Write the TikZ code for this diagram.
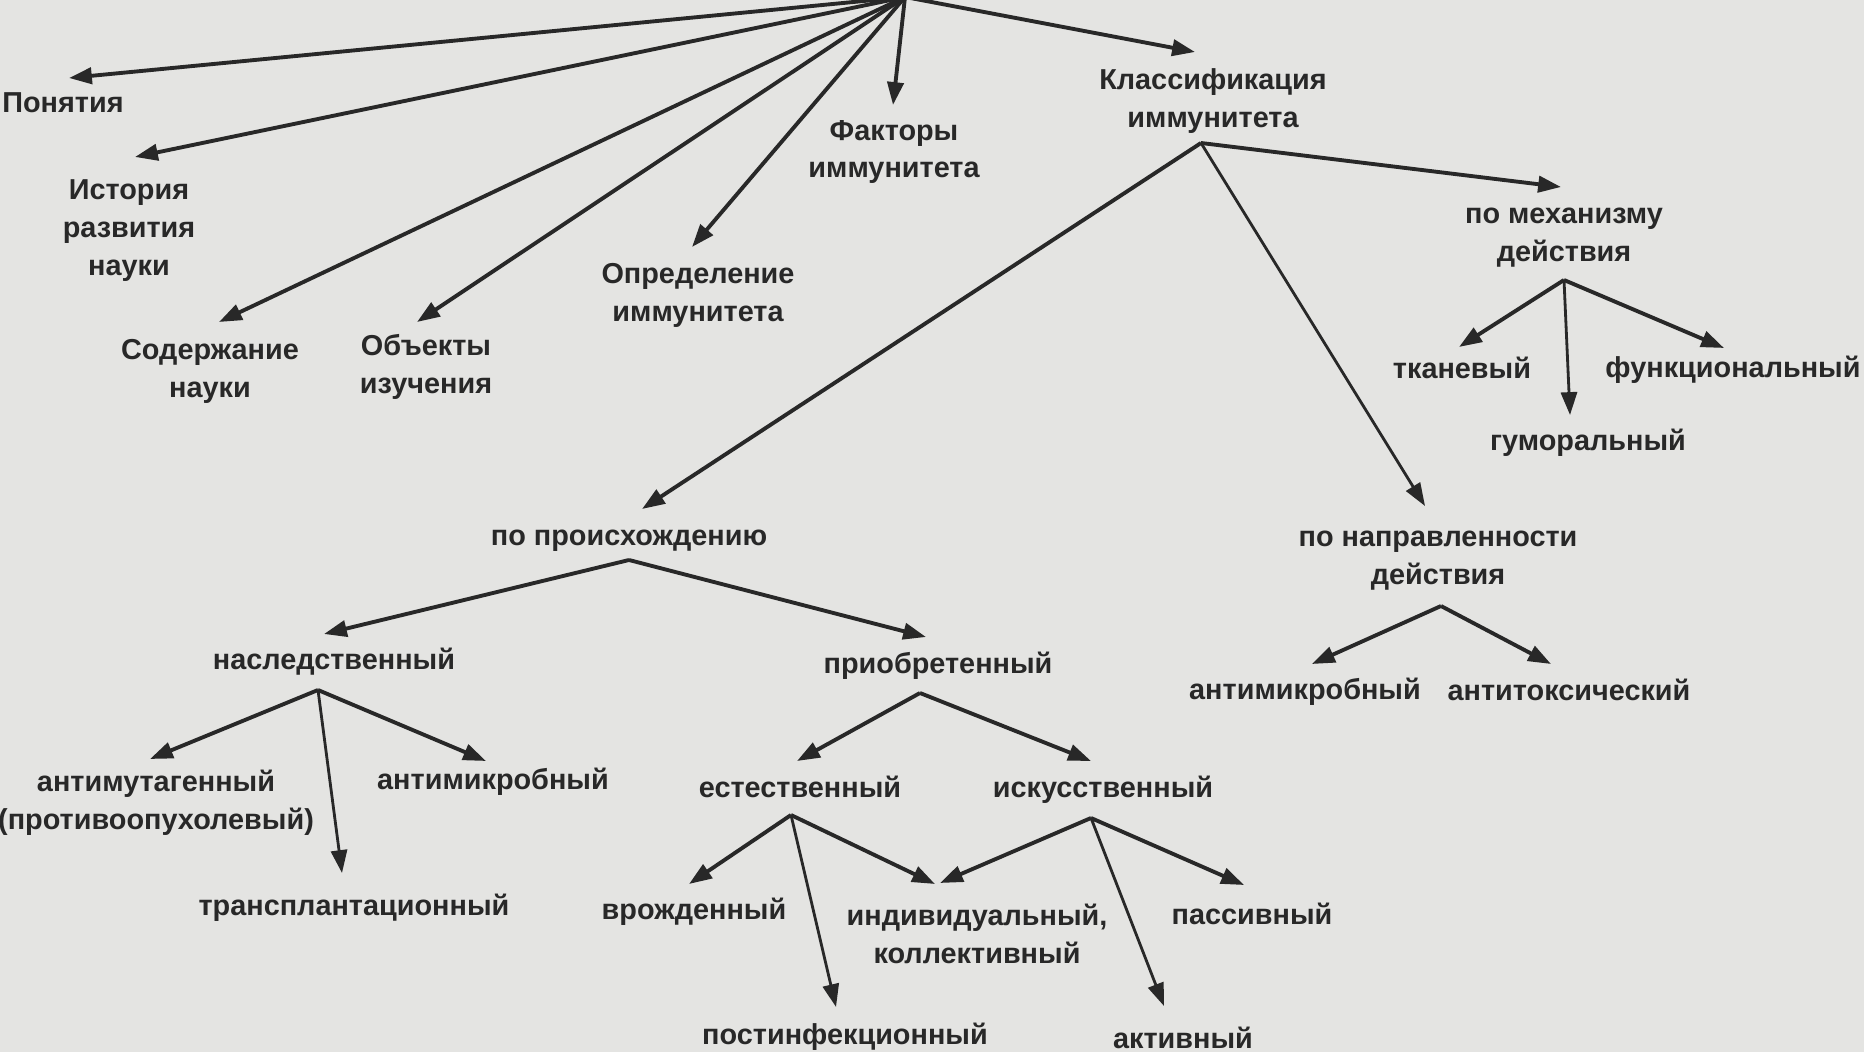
\documentclass[tikz,border=0pt]{standalone}
\usepackage{fontspec}
\setmainfont{Liberation Sans}
\usetikzlibrary{arrows.meta}
\definecolor{bgcol}{RGB}{228,228,226}
\definecolor{inkcol}{RGB}{40,40,40}
\begin{document}
\begin{tikzpicture}[x=0.01cm,y=-0.01cm,
  lbl/.style={inner sep=0pt, align=center, text=inkcol, font=\fontsize{8.2}{10.8}\selectfont\bfseries},
  arr/.style={draw=inkcol, line width=1.1pt, -{Triangle[length=6.5pt,width=4.6pt]}},
  thinarr/.style={arr, line width=0.8pt}]
\fill[bgcol] (0,0) rectangle (1864,1052);
\useasboundingbox (0,0) rectangle (1864,1052);

\coordinate (root) at (905,-3);
\node[lbl] (ponyatiya) at (63,103) {Понятия};
\node[lbl] (istoriya) at (129,231) {История\\развития\\науки};
\node[lbl] (soderzh) at (210,371) {Содержание\\науки};
\node[lbl] (obekty) at (426,367) {Объекты\\изучения};
\node[lbl] (opred) at (698,295) {Определение\\иммунитета};
\node[lbl] (faktory) at (894,152) {Факторы\\иммунитета};
\node[lbl] (klass) at (1213,101) {Классификация\\иммунитета};
\node[lbl] (mekh) at (1564,238) {по механизму\\действия};
\node[lbl] (tkan) at (1462,368) {тканевый};
\node[lbl] (gumor) at (1588,443) {гуморальный};
\node[lbl] (funk) at (1733,370) {функциональный};
\node[lbl] (proish) at (629,541) {по происхождению};
\node[lbl] (napr) at (1438,561) {по направленности\\действия};
\node[lbl] (nasl) at (334,662) {наследственный};
\node[lbl] (priobr) at (938,666) {приобретенный};
\node[lbl] (antimikR) at (1305,692) {антимикробный};
\node[lbl] (antitox) at (1569,690) {антитоксический};
\node[lbl] (antimut) at (156,803) {антимутагенный\\(противоопухолевый)};
\node[lbl] (antimikL) at (493,782) {антимикробный};
\node[lbl] (transpl) at (354,908) {трансплантационный};
\node[lbl] (estest) at (800,787) {естественный};
\node[lbl] (iskus) at (1103,790) {искусственный};
\node[lbl] (vrozh) at (694,912) {врожденный};
\node[lbl] (indiv) at (977,934) {индивидуальный,\\коллективный};
\node[lbl] (passiv) at (1252,914) {пассивный};
\node[lbl] (postinf) at (845,1037) {постинфекционный};
\node[lbl] (aktiv) at (1183,1038) {активный};

% from root
\draw[arr] (root) -- ([shift={(6,-25)}]ponyatiya.center);
\draw[arr] (root) -- ([shift={(6,-74)}]istoriya.center);
\draw[arr] (root) -- ([shift={(9,-49)}]soderzh.center);
\draw[arr] (root) -- ([shift={(-9,-45)}]obekty.center);
\draw[arr] (root) -- ([shift={(-6,-48)}]opred.center);
\draw[arr] (root) -- ([shift={(-1,-47)}]faktory.center);
\draw[arr] (root) -- ([shift={(-18,-49)}]klass.center);

% classification
\draw[arr] ([shift={(-12,42)}]klass.center) -- ([shift={(-3,-51)}]mekh.center);
\draw[arr] ([shift={(-12,42)}]klass.center) -- ([shift={(13,-32)}]proish.center);
\draw[thinarr] ([shift={(-12,42)}]klass.center) -- ([shift={(-13,-55)}]napr.center);

% mechanism
\draw[arr] ([shift={(0,42)}]mekh.center) -- ([shift={(-3,-21)}]tkan.center);
\draw[thinarr] ([shift={(0,42)}]mekh.center) -- ([shift={(-18,-28)}]gumor.center);
\draw[arr] ([shift={(0,42)}]mekh.center) -- ([shift={(-9,-22)}]funk.center);

% origin
\draw[arr] ([shift={(0,19)}]proish.center) -- ([shift={(-10,-28)}]nasl.center);
\draw[arr] ([shift={(0,19)}]proish.center) -- ([shift={(-12,-29)}]priobr.center);

% direction
\draw[arr] ([shift={(3,45)}]napr.center) -- ([shift={(7,-28)}]antimikR.center);
\draw[arr] ([shift={(3,45)}]napr.center) -- ([shift={(-18,-26)}]antitox.center);

% hereditary
\draw[arr] ([shift={(-16,28)}]nasl.center) -- ([shift={(-6,-44)}]antimut.center);
\draw[thinarr] ([shift={(-16,28)}]nasl.center) -- ([shift={(-12,-35)}]transpl.center);
\draw[arr] ([shift={(-16,28)}]nasl.center) -- ([shift={(-7,-21)}]antimikL.center);

% acquired
\draw[arr] ([shift={(-18,27)}]priobr.center) -- ([shift={(-3,-26)}]estest.center);
\draw[arr] ([shift={(-18,27)}]priobr.center) -- ([shift={(-12,-29)}]iskus.center);

% natural
\draw[arr] ([shift={(-9,28)}]estest.center) -- ([shift={(-5,-28)}]vrozh.center);
\draw[thinarr] ([shift={(-9,28)}]estest.center) -- ([shift={(-9,-30)}]postinf.center);
\draw[arr] ([shift={(-9,28)}]estest.center) -- ([shift={(-42,-50)}]indiv.center);

% artificial
\draw[arr] ([shift={(-12,28)}]iskus.center) -- ([shift={(-37,-51)}]indiv.center);
\draw[arr] ([shift={(-12,28)}]iskus.center) -- ([shift={(-8,-29)}]passiv.center);
\draw[thinarr] ([shift={(-12,28)}]iskus.center) -- ([shift={(-19,-32)}]aktiv.center);
\end{tikzpicture}
\end{document}
